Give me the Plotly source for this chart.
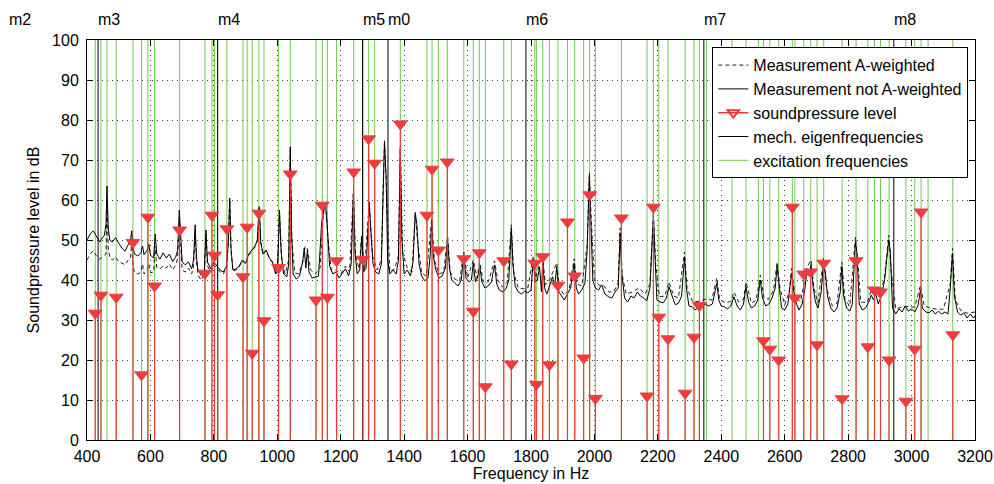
import plotly.graph_objects as go

# ---------------- data ----------------
# Measurement not A-weighted (solid)
freq_z = [400,410,420,430,440,447,455,460,463,467,472,480,490,500,510,520,530,537,541,545,550,560,570,575,580,590,595,600,610,615,620,630,640,650,660,670,680,686,691,695,700,710,720,730,736,741,745,750,760,770,775,780,790,800,810,820,830,840,846,850,854,860,870,880,890,900,910,920,930,937,943,948,955,965,975,985,995,1002,1007,1012,1020,1030,1036,1041,1045,1050,1060,1070,1080,1085,1090,1095,1100,1110,1120,1130,1140,1146,1152,1158,1165,1175,1185,1195,1205,1215,1225,1233,1240,1245,1252,1260,1266,1272,1280,1290,1296,1302,1310,1320,1328,1334,1338,1343,1348,1355,1365,1375,1382,1388,1393,1400,1410,1420,1428,1435,1440,1447,1455,1465,1475,1482,1487,1492,1500,1510,1520,1530,1537,1543,1550,1560,1570,1580,1588,1595,1605,1612,1618,1625,1633,1638,1645,1655,1665,1675,1685,1692,1700,1712,1722,1730,1738,1743,1750,1760,1770,1780,1790,1800,1807,1813,1820,1827,1833,1837,1843,1850,1860,1868,1875,1881,1888,1897,1905,1915,1925,1936,1943,1950,1960,1970,1977,1984,1989,1995,2003,2013,2023,2033,2045,2055,2065,2075,2081,2086,2095,2105,2115,2125,2135,2145,2155,2165,2175,2181,2186,2191,2197,2207,2217,2227,2235,2245,2255,2265,2275,2284,2290,2298,2308,2318,2328,2338,2348,2360,2372,2380,2386,2392,2400,2410,2420,2430,2440,2450,2460,2470,2478,2486,2495,2505,2515,2523,2530,2540,2550,2560,2570,2576,2582,2590,2600,2610,2616,2622,2628,2635,2645,2655,2663,2670,2677,2683,2690,2697,2705,2715,2722,2728,2735,2745,2755,2765,2775,2780,2786,2795,2805,2813,2818,2823,2828,2835,2845,2855,2865,2873,2880,2887,2895,2905,2915,2922,2928,2933,2940,2950,2960,2970,2980,2990,3000,3010,3020,3028,3034,3045,3055,3065,3075,3085,3095,3105,3115,3122,3129,3135,3145,3155,3165,3175,3185,3195,3200]
level_z = [50.0,51.5,52.3,51.0,49.5,50.5,51.2,54.0,63.5,53.0,50.0,49.5,50.6,49.2,48.0,47.2,49.0,50.0,52.3,48.0,46.5,46.0,46.8,48.5,46.3,47.5,49.0,46.2,45.5,51.5,46.5,45.2,46.8,45.5,46.5,44.6,45.8,47.5,57.5,50.0,44.5,43.8,44.5,42.8,45.0,53.8,46.0,42.5,41.2,42.5,52.5,44.5,42.8,44.5,43.5,42.5,42.0,43.5,50.0,60.5,48.0,42.5,42.8,43.5,45.0,44.2,46.5,47.5,48.5,50.0,58.3,49.5,46.5,47.5,45.5,44.5,41.5,45.0,57.5,47.0,41.5,40.8,44.0,73.3,52.0,41.5,40.2,41.0,44.5,48.0,43.0,47.5,42.0,40.5,40.8,41.0,54.5,57.0,59.2,53.0,43.5,41.5,42.0,40.5,41.5,42.8,41.0,44.0,61.7,47.0,41.5,42.5,50.8,42.0,43.0,59.2,51.0,44.0,42.0,41.5,44.0,60.0,74.6,66.0,45.0,41.5,42.5,41.5,45.0,72.9,50.0,41.5,42.5,41.0,44.5,56.7,54.0,44.0,41.0,39.8,40.5,46.0,55.0,46.0,42.5,40.5,41.0,43.0,50.4,43.0,40.0,39.2,38.5,40.0,46.3,40.5,39.5,40.0,44.2,39.5,41.0,43.8,39.5,38.0,38.5,39.5,43.8,39.0,37.5,37.0,38.0,40.0,52.9,44.0,38.5,37.0,36.5,37.2,36.8,37.5,45.0,39.5,40.0,43.3,37.0,45.0,38.0,36.5,39.2,40.8,38.5,43.3,37.0,35.8,35.0,36.5,38.0,44.2,38.0,36.5,37.5,39.2,47.5,65.8,55.8,40.0,38.0,37.5,38.8,36.5,35.8,35.5,37.0,38.0,51.7,42.0,35.5,34.5,36.0,35.5,37.0,36.0,35.5,34.8,38.0,49.2,55.8,46.0,35.0,34.5,34.3,35.5,38.3,36.0,33.8,34.2,36.0,45.8,38.0,33.5,33.3,32.5,33.5,33.0,34.0,33.5,34.0,37.0,39.2,35.0,33.5,33.3,32.8,33.5,35.8,33.5,32.5,34.0,38.3,34.5,33.0,33.5,35.0,40.0,35.5,33.5,34.0,35.5,38.0,43.3,39.0,33.0,32.5,34.0,38.0,41.7,37.5,34.5,32.5,34.0,37.5,42.0,41.0,43.8,38.0,34.5,33.0,37.0,44.2,42.0,36.0,33.0,32.0,33.0,37.0,43.3,36.0,33.0,32.2,34.0,42.0,49.6,46.5,34.0,32.5,33.0,34.5,36.2,35.0,36.5,34.0,36.0,40.0,45.5,50.0,47.0,33.0,31.5,32.8,32.0,33.5,32.2,32.8,32.0,33.5,37.5,33.0,32.0,31.8,32.5,31.5,32.2,31.5,32.0,31.5,38.0,46.7,36.0,32.0,31.2,31.8,30.5,31.5,30.5,31.0]

# Measurement A-weighted (dashed)
freq_a = [400,410,420,430,440,450,460,463,467,472,480,490,500,510,520,530,537,541,545,550,560,570,575,580,590,595,600,610,615,620,630,640,650,660,670,680,686,691,695,700,710,720,730,736,741,745,750,760,770,775,780,790,800,810,820,830,840,846,850,854,860,870,880,890,900,910,920,930,937,943,948,955,965,975,985,995,1000,1007,1015,1025,1036,1041,1046,1055,1068,1082,1088,1095,1105,1120,1135,1146,1152,1160,1170,1185,1200,1215,1228,1240,1247,1258,1266,1275,1290,1300,1315,1328,1338,1345,1355,1370,1382,1388,1395,1410,1425,1435,1442,1455,1470,1487,1495,1510,1525,1537,1545,1560,1575,1588,1600,1618,1630,1638,1650,1665,1685,1695,1710,1725,1738,1745,1760,1775,1790,1807,1815,1827,1837,1845,1860,1868,1881,1890,1905,1920,1936,1945,1960,1977,1984,1990,2000,2015,2030,2045,2060,2075,2081,2088,2100,2120,2140,2160,2175,2186,2193,2205,2222,2235,2250,2265,2284,2292,2310,2330,2350,2370,2386,2395,2415,2430,2440,2455,2470,2478,2495,2510,2523,2535,2550,2565,2576,2585,2600,2614,2622,2632,2650,2670,2683,2692,2705,2722,2732,2750,2765,2780,2790,2805,2823,2830,2840,2860,2873,2887,2900,2915,2928,2936,2950,2970,2990,3010,3028,3040,3060,3080,3100,3122,3129,3138,3155,3175,3200]
level_a = [45.0,46.5,47.3,46.0,45.2,45.8,46.5,59.5,48.0,45.5,45.0,45.8,44.5,44.2,43.8,45.0,45.5,49.5,43.5,41.8,41.5,42.0,44.0,41.5,42.5,44.0,41.8,42.0,48.5,43.0,42.8,43.5,43.0,44.0,42.5,43.8,45.5,55.5,48.0,42.5,42.0,43.0,41.5,43.5,52.5,44.5,41.2,40.0,41.5,51.5,43.5,42.0,43.8,43.0,42.0,41.5,43.0,49.5,60.0,47.5,42.2,42.5,43.3,44.8,44.0,46.2,47.3,48.3,49.8,58.0,49.3,46.3,47.4,45.4,44.4,41.5,42.0,56.5,44.0,41.5,45.0,72.5,50.0,41.8,41.5,45.0,48.5,47.8,42.5,41.5,43.0,57.5,59.5,50.0,42.5,42.5,41.5,43.5,42.0,62.0,46.0,42.8,51.2,42.5,59.5,46.0,42.5,45.0,75.0,60.0,42.0,42.8,46.0,73.3,47.0,43.0,42.0,57.0,50.0,41.8,41.0,55.5,45.0,41.5,42.0,51.0,42.0,40.2,39.8,47.0,40.5,45.0,40.5,44.5,39.5,39.5,44.8,40.0,38.2,39.5,53.8,42.0,38.0,37.8,38.0,46.0,40.5,44.3,46.0,38.8,40.2,41.8,44.3,38.0,36.2,37.5,45.3,39.0,38.5,48.7,67.0,55.0,40.0,38.7,38.5,37.0,37.0,39.2,53.0,41.0,36.5,37.0,38.0,36.5,39.0,57.0,44.0,35.8,36.0,39.5,36.0,35.5,47.0,38.0,34.5,34.7,35.2,35.0,40.5,35.0,34.3,34.7,37.0,34.5,35.2,39.5,34.2,35.0,41.2,35.5,35.2,37.5,44.5,38.0,33.8,37.0,43.0,36.0,34.5,43.2,45.0,38.0,34.3,45.4,38.0,33.5,34.2,44.5,35.0,33.5,50.8,45.0,34.5,34.3,37.4,37.7,35.2,41.0,51.2,42.0,32.8,33.2,33.4,33.2,38.7,33.5,33.0,32.7,32.7,39.0,47.9,35.0,32.4,31.7,32.0]

# Sound pressure level at excitation frequencies (stems)
spl_freq = [426,444,492,545,572,592,613,692,772,794,802,812,841,892,905,921,942,958,1004,1041,1122,1142,1158,1187,1241,1270,1288,1307,1388,1472,1488,1508,1536,1588,1618,1637,1656,1714,1738,1812,1817,1837,1858,1885,1915,1938,1966,1985,2003,2085,2166,2186,2203,2232,2286,2314,2331,2533,2553,2581,2624,2632,2660,2682,2702,2723,2781,2825,2862,2883,2902,2929,2982,3010,3030,3130]
spl_db = [31.7,36.2,35.7,49.4,16.3,55.7,38.5,52.5,41.7,56.2,46.2,36.3,52.8,40.8,53.2,21.7,56.7,29.8,43.1,66.5,35.0,58.7,35.7,44.8,67.0,45.2,75.3,69.2,79.0,56.2,67.7,47.5,69.5,45.3,32.2,46.8,13.3,44.8,19.0,44.2,13.9,45.8,18.8,38.7,54.5,41.0,20.5,61.3,10.4,55.5,11.0,58.2,30.7,25.3,11.7,25.7,33.6,24.8,22.7,20.0,58.2,35.5,41.5,42.0,23.8,44.2,10.3,44.8,23.3,37.5,37.0,20.0,9.7,22.7,57.0,26.3]

# Excitation frequencies without an evaluated level
extra_excitation_freq = [463, 2353, 2434, 2478, 2517, 3052]

# Mechanical eigenfrequencies
eigen_names = ["m2", "m3", "m4", "m5", "m0", "m6", "m7", "m8"]
eigen_freq = [153, 435, 812, 1269, 1349, 1784, 2345, 2944]

x_ticks = list(range(400, 3201, 200))
y_ticks = list(range(0, 101, 10))
X_RANGE = [400, 3200]
Y_RANGE = [0, 100]

# ---------------- figure ----------------
FONT = "Liberation Sans, Arial, Helvetica, sans-serif"
fig = go.Figure()

def vlines(freqs, y0, y1):
    xs, ys = [], []
    for f in freqs:
        xs += [f, f, None]
        ys += [y0, y1, None]
    return xs, ys

exc_all = sorted(spl_freq + extra_excitation_freq)
gx, gy = vlines(exc_all, Y_RANGE[0], Y_RANGE[1])
fig.add_trace(go.Scatter(x=gx, y=gy, mode="lines", name="excitation frequencies",
                         line=dict(color="#72c952", width=1), legendrank=5,
                         hoverinfo="skip"))

in_range = [f for f in eigen_freq if X_RANGE[0] <= f <= X_RANGE[1]]
ex, ey = vlines(in_range, Y_RANGE[0], Y_RANGE[1])
fig.add_trace(go.Scatter(x=ex, y=ey, mode="lines", name="mech. eigenfrequencies",
                         line=dict(color="black", width=1), legendrank=4,
                         hoverinfo="skip"))

fig.add_trace(go.Scatter(x=freq_a, y=level_a, mode="lines", name="Measurement A-weighted",
                         line=dict(color="#222222", width=1, dash="4px,3px"), legendrank=1))
fig.add_trace(go.Scatter(x=freq_z, y=level_z, mode="lines", name="Measurement not A-weighted",
                         line=dict(color="black", width=1), legendrank=2))

sx, sy = [], []
for f, v in zip(spl_freq, spl_db):
    sx += [f, f, None]
    sy += [0, v, None]
fig.add_trace(go.Scatter(x=sx, y=sy, mode="lines", showlegend=False,
                         line=dict(color="#ee3636", width=1.2), hoverinfo="skip"))
fig.add_trace(go.Scatter(x=spl_freq, y=spl_db, mode="markers", showlegend=False,
                         marker=dict(symbol="triangle-down", size=12, color="#f03c3c",
                                     line=dict(color="#f03c3c", width=1))))
# legend entry for the stems (line + open triangle)
fig.add_trace(go.Scatter(x=[None], y=[None], mode="lines+markers", name="soundpressure level",
                         line=dict(color="#ee3636", width=1.5), legendrank=3,
                         marker=dict(symbol="triangle-down-open", size=10, color="#ee3636",
                                     line=dict(width=2))))

# eigenfrequency labels above the axes
for name, f in zip(eigen_names, eigen_freq):
    if X_RANGE[0] <= f <= X_RANGE[1]:
        fig.add_annotation(x=f, xref="x", y=1.05, yref="paper", text=name, showarrow=False,
                           xanchor="left", yanchor="middle", xshift=-2,
                           font=dict(size=16, color="black"))
    else:
        fig.add_annotation(x=(f - X_RANGE[0]) / (X_RANGE[1] - X_RANGE[0]), xref="paper",
                           y=1.05, yref="paper", text=name, showarrow=False,
                           xanchor="left", yanchor="middle", xshift=-2,
                           font=dict(size=16, color="black"))

axis_common = dict(showline=True, linecolor="black", linewidth=1, mirror="ticks",
                   ticks="inside", ticklen=6, tickcolor="black",
                   showgrid=True, gridcolor="#444444", gridwidth=1, griddash="1px,4px",
                   zeroline=False, tickfont=dict(size=16, color="black"))

fig.update_xaxes(range=X_RANGE, tickvals=x_ticks, ticktext=[str(t) for t in x_ticks],
                 ticklabelstandoff=2,
                 title=dict(text="Frequency in Hz", font=dict(size=16, color="black"), standoff=2),
                 **axis_common)
fig.update_yaxes(range=Y_RANGE, tickvals=y_ticks, ticktext=[str(t) for t in y_ticks],
                 ticklabelstandoff=4,
                 title=dict(text="Soundpressure level in dB", font=dict(size=16, color="black"), standoff=8),
                 **axis_common)

fig.update_layout(
    width=994, height=484,
    margin=dict(l=87, r=19, t=40, b=44, autoexpand=False),
    paper_bgcolor="white", plot_bgcolor="white",
    font=dict(family=FONT, size=16, color="black"),
    showlegend=True,
    legend=dict(x=0.9925, y=0.982, xanchor="right", yanchor="top",
                bgcolor="white", bordercolor="black", borderwidth=1,
                font=dict(size=16, color="black"), tracegroupgap=0,
                itemwidth=30),
)

fig.write_html("out.html")
